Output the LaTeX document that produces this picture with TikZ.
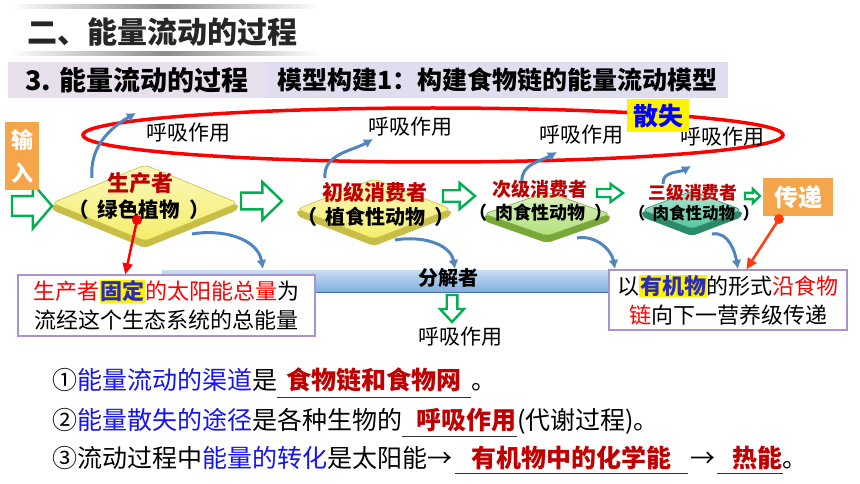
\documentclass[tikz,border=0pt]{standalone}
\usepackage{fontspec}
\setmainfont{Noto Sans CJK SC}
\usetikzlibrary{arrows.meta,calc}
\definecolor{darkred}{HTML}{C00000}
\definecolor{txtblue}{HTML}{1414F0}
\definecolor{hlblue}{HTML}{2B2BB8}
\definecolor{orangebox}{HTML}{F5A54A}
\definecolor{gArrow}{HTML}{00B050}
\definecolor{bArrow}{HTML}{4F86C0}
\definecolor{boxline}{HTML}{A994D0}
\definecolor{bandL}{HTML}{E7DFEC}
\definecolor{bandR}{HTML}{DEDEEE}
\definecolor{dYel}{HTML}{F4EE6A}
\definecolor{dYelS}{HTML}{C9BE45}
\definecolor{dGrn}{HTML}{B2E07A}
\definecolor{dGrnS}{HTML}{78A83A}
\definecolor{dTeal}{HTML}{52C6A0}
\definecolor{dTealS}{HTML}{2C8A6A}
\definecolor{barTop}{HTML}{C8DDF2}
\definecolor{barBot}{HTML}{7FAEE0}
\definecolor{barEdge}{HTML}{4A6E9A}
\definecolor{ptrOrange}{HTML}{FF3B10}
\newcommand{\fsz}[1]{\fontsize{#1}{#1}\selectfont}
\newcommand{\hlt}[1]{{\setlength{\fboxsep}{0.6pt}\colorbox{yellow}{\textcolor{hlblue}{\bfseries #1}}}}
\newcommand{\pl}{（\hspace{0.45em}}
\newcommand{\pr}{\hspace{0.45em}）}
% diamond: name, cx, cy, half width, half height, face colour, side colour
\newcommand{\dmd}[7]{%
  \fill[#7,rounded corners=4pt] (#2-#4,#3) -- (#2-#4,#3+7) -- (#2,#3+#5+7) -- (#2+#4,#3+7) -- (#2+#4,#3) -- (#2,#3+#5) -- cycle;
  \shade[top color=#6!45!white, bottom color=#6, draw=#7, line width=0.6pt, rounded corners=5pt] (#2-#4,#3) -- (#2,#3-#5) -- (#2+#4,#3) -- (#2,#3+#5) -- cycle;
  \coordinate (#1) at (#2,#3);
}
% hollow right arrow: name, x0, y centre, length, height
\newcommand{\garrow}[5]{%
  \coordinate (#1) at (#2,#3);
  \draw[garrowst] (#2,#3-#5*0.22) -- (#2+#4*0.52,#3-#5*0.22) -- (#2+#4*0.52,#3-#5/2) -- (#2+#4,#3) -- (#2+#4*0.52,#3+#5/2) -- (#2+#4*0.52,#3+#5*0.22) -- (#2,#3+#5*0.22) -- cycle;
}
\begin{document}
\begin{tikzpicture}[x=1pt,y=-1pt,
  lbl/.style={font=\fsz{21}, inner sep=0pt},
  garrowst/.style={draw=gArrow, fill=white, line width=2.4pt, line join=miter},
  barrow/.style={draw=bArrow, line width=3pt, -{Latex[length=9pt,width=10pt]}},
  ptr/.style={line width=2.5pt, -{Triangle[length=11pt,width=10pt]}},
  tagbox/.style={fill=orangebox, text=white, inner sep=0pt},
  infobox/.style={draw=boxline, line width=1.3pt, fill=white, inner sep=0pt, align=center, font=\fontsize{22}{29}\selectfont},
  uline/.style={line width=1pt, black!80}]
\useasboundingbox (0,0) rectangle (860,484);
\fill[white] (0,0) rectangle (860,484);

% title
\shade[left color=white, right color=white, middle color=black!45] (10,5) rectangle (320,9);
\shade[left color=white, right color=white, middle color=black!45] (10,52) rectangle (320,56);
\node[anchor=west, font=\fsz{30}\bfseries, text=black!85, inner sep=0pt] (title) at (27,32) {二、能量流动的过程};

% band
\fill[bandL] (8,62) rectangle (267,98);
\fill[bandR] (267,62) rectangle (728,98);
\node[anchor=west, font=\fsz{27}\bfseries, inner sep=0pt] (sec) at (25,80) {3.\hspace{0.3em}能量流动的过程};
\node[anchor=west, font=\fsz{25}\bfseries, inner sep=0pt] (model) at (277,80) {模型构建1：构建食物链的能量流动模型};

% respiration ellipse
\draw[red, line width=3.5pt] (433,135) ellipse [x radius=350pt, y radius=27pt];
\node[lbl] (r1) at (188,133) {呼吸作用};
\node[lbl] (r2) at (410,127) {呼吸作用};
\node[lbl] (r3) at (581,135) {呼吸作用};
\node[lbl] (r4) at (722,137) {呼吸作用};

% upward blue arrows
\coordinate (u1a) at (92,178); \coordinate (u1b) at (136,113);
\coordinate (u2a) at (325,178); \coordinate (u2b) at (373,139);
\coordinate (u3a) at (522,182); \coordinate (u3b) at (557,152);
\coordinate (u4a) at (663,184); \coordinate (u4b) at (691,166);
\draw[barrow] (u1a) to[out=95,in=210] (u1b);
\draw[barrow] (u2a) to[out=95,in=210] (u2b);
\draw[barrow] (u3a) to[out=95,in=210] (u3b);
\draw[barrow] (u4a) to[out=95,in=210] (u4b);

% decomposer bar
\shade[top color=barTop, bottom color=barBot] (162,270) rectangle (790,292);
\draw[barEdge, line width=1.5pt] (162,292.5) -- (790,292.5);
\node[font=\fsz{20}\bfseries, inner sep=0pt] (dec) at (448,278) {分解者};

% downward blue arrows
\coordinate (d1a) at (192,234); \coordinate (d1b) at (263,269);
\coordinate (d2a) at (395,240); \coordinate (d2b) at (455,269);
\coordinate (d3a) at (577,238); \coordinate (d3b) at (615,269);
\coordinate (d4a) at (712,234); \coordinate (d4b) at (738,269);
\draw[barrow] (d1a) to[out=10,in=100] (d1b);
\draw[barrow] (d2a) to[out=10,in=100] (d2b);
\draw[barrow] (d3a) to[out=10,in=100] (d3b);
\draw[barrow] (d4a) to[out=10,in=100] (d4b);

% diamonds
\dmd{prod}{145}{203}{93}{38}{dYel}{dYelS}
\dmd{cons1}{374}{209}{77}{30}{dYel}{dYelS}
\dmd{cons2}{547}{214}{63}{22}{dGrn}{dGrnS}
\dmd{cons3}{692}{210}{50}{19}{dTeal}{dTealS}

\node[font=\fsz{22}\bfseries, text=darkred, inner sep=0pt] (prodA) at (140,183) {生产者};
\node[font=\fsz{20.5}\bfseries, inner sep=0pt] (prodB) at (139,210) {\pl 绿色植物\pr};
\node[font=\fsz{21}\bfseries, text=darkred, inner sep=0pt] (c1A) at (375,192) {初级消费者};
\node[font=\fsz{20}\bfseries, inner sep=0pt] (c1B) at (376,217) {\pl 植食性动物\pr};
\node[font=\fsz{19}\bfseries, text=darkred, inner sep=0pt] (c2A) at (540,189) {次级消费者};
\node[font=\fsz{18}\bfseries, inner sep=0pt] (c2B) at (541,213) {\pl 肉食性动物\pr};
\node[font=\fsz{17.8}\bfseries, text=darkred, inner sep=0pt] (c3A) at (693,193) {三级消费者};
\node[font=\fsz{16.5}\bfseries, inner sep=0pt] (c3B) at (694,213) {\pl 肉食性动物\pr};

% green hollow arrows
\garrow{ga1}{12}{206}{40}{45}
\garrow{ga2}{241}{201}{41}{38}
\garrow{ga3}{443}{196}{32}{26}
\garrow{ga4}{597}{193}{26}{18}
\garrow{ga5}{745}{196}{15}{14}
\coordinate (gdown) at (452,295);
\draw[garrowst] (446.7,295) -- (457.3,295) -- (457.3,309) -- (464,309) -- (452,322) -- (440,309) -- (446.7,309) -- cycle;
\node[lbl] (r5) at (460,337) {呼吸作用};

% tag boxes
\node[tagbox, minimum width=34pt, minimum height=68pt, align=center, font=\fontsize{22}{33}\selectfont\bfseries] (inp) at (22,156) {输\\入};
\node[tagbox, minimum width=70pt, minimum height=37pt, font=\fsz{24}\bfseries] (pass) at (798,197) {传递};
\node[fill=yellow, text=blue, font=\fsz{25}\bfseries, minimum width=62pt, minimum height=33pt, inner sep=0pt] (loss) at (658,116) {散失};

% info boxes
\node[infobox, minimum width=297pt, minimum height=61pt] (box1) at (166.5,305.5) {\textcolor{red}{生产者}\hlt{固定}\textcolor{red}{的太阳能总量}为\\流经这个生态系统的总能量};
\node[infobox, minimum width=238pt, minimum height=60pt] (box2) at (728,300) {以\hlt{有机物}的形式\textcolor{red}{沿食物}\\\textcolor{red}{链}向下一营养级传递};

% pointers
\coordinate (pdot) at (137,220);
\coordinate (b1t) at ($(box1.north west)+(108,0)$);
\draw[ptr, red] (pdot) -- (b1t);
\fill[red] (pdot) circle (5pt);
\coordinate (tdot) at (779,219);
\coordinate (b2t) at ($(box2.north west)+(138,0)$);
\draw[ptr, ptrOrange] (tdot) -- (b2t);
\fill[ptrOrange] (tdot) circle (5pt);

% bottom statements
\begin{scope}[every node/.style={inner sep=0pt, font=\fsz{25}, anchor=base west}]
\node (l1a) at (52,389) {①\textcolor{txtblue}{能量流动的渠道}是};
\node[minimum width=193pt, text=darkred, font=\fsz{25}\bfseries] (l1b) at (l1a.base east) {食物链和食物网};
\node (l1c) at (l1b.base east) {。};
\node (l2a) at (52,429) {②\textcolor{txtblue}{能量散失的途径}是各种生物的};
\node[text=darkred, font=\fsz{25}\bfseries] (l2b) at (l2a.base east) {\hspace*{14pt}呼吸作用};
\node (l2c) at (l2b.base east) {(代谢过程)。};
\node (l3a) at (52,467) {③流动过程中\textcolor{txtblue}{能量的转化}是太阳能→\hspace*{3pt}};
\node[minimum width=232pt, text=darkred, font=\fsz{25}\bfseries] (l3b) at (l3a.base east) {有机物中的化学能};
\node (l3c) at (l3b.base east) {\hspace*{2pt}→\hspace*{2pt}};
\node[text=darkred, font=\fsz{25}\bfseries] (l3d) at (l3c.base east) {\hspace*{15pt}热能};
\node (l3e) at (l3d.base east) {。};
\end{scope}
\draw[uline] ($(l1b.base west)+(0,8)$) -- ($(l1b.base east)+(0,8)$);
\draw[uline] ($(l2b.base west)+(0,7)$) -- ($(l2b.base east)+(0,7)$);
\draw[uline] ($(l3b.base west)+(0,6)$) -- ($(l3b.base east)+(0,6)$);
\draw[uline] ($(l3d.base west)+(0,6)$) -- ($(l3d.base east)+(0,6)$);
\end{tikzpicture}
\end{document}
